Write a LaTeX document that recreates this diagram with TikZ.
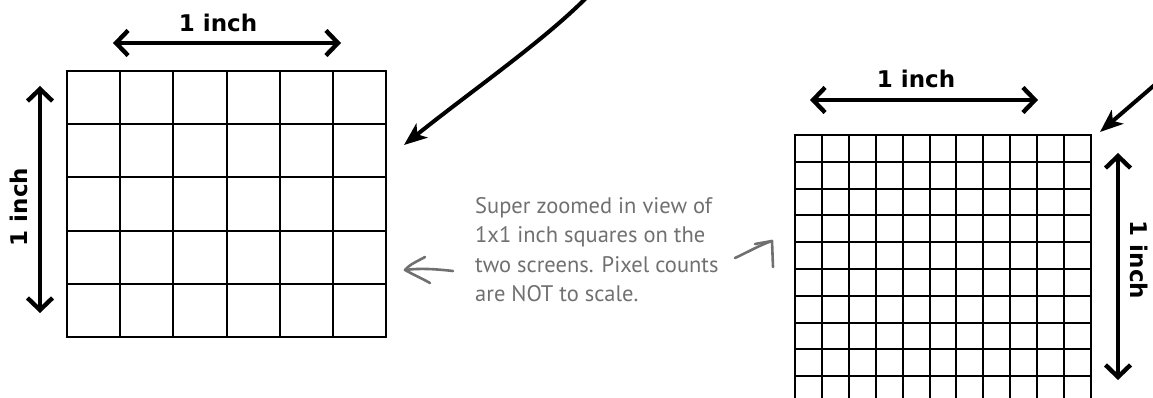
\documentclass[tikz,border=0pt]{standalone}
\usepackage{fontspec}
\newfontfamily\inchfont{DejaVu Sans}
\newfontfamily\notefont{PT Sans}
\definecolor{noteGray}{HTML}{707070}
\usetikzlibrary{arrows.meta}

\begin{document}
\begin{tikzpicture}[x=1pt,y=-1pt,
  gridline/.style={line width=2pt,line cap=rect},
  dim/.style={{Straight Barb[length=12pt,width=25pt]}-{Straight Barb[length=12pt,width=25pt]},
              line width=4.4pt},
  lbl/.style={font=\inchfont\bfseries\fontsize{23}{23}\selectfont,inner sep=0pt},
  ptr/.style={-{Stealth[length=23pt,width=18pt,inset=6pt]},line width=4pt},
  note/.style={font=\notefont\fontsize{22.5}{29.5}\selectfont,text=noteGray,
               align=left,inner sep=0pt},
  hand/.style={noteGray,line width=2.6pt,line cap=round,line join=round}
]
  \useasboundingbox (0,0) rectangle (1153,398);

  % ── Left screen: 6 x 5 squares per inch ──────────────────────────────────
  \foreach \i in {0,...,6} \draw[gridline] ({67+\i*53.17},71) -- ({67+\i*53.17},337);
  \foreach \j in {0,...,5} \draw[gridline] (67,{71+\j*53.2}) -- (386,{71+\j*53.2});

  \coordinate (lh-a) at (113,43);  \coordinate (lh-b) at (341,43);
  \coordinate (lv-a) at (40,86);   \coordinate (lv-b) at (40,313);
  \draw[dim] (lh-a) -- (lh-b);
  \draw[dim] (lv-a) -- (lv-b);
  \node[lbl] (lh-lbl) at (218,23) {1 inch};
  \node[lbl,rotate=90] (lv-lbl) at (19,207) {1 inch};

  % ── Right screen: 11 squares per inch (cut off at the bottom) ────────────
  \begin{scope}
    \clip (780,120) rectangle (1100,398);
    \foreach \i in {0,...,11} \draw[gridline] ({795+\i*26.9},135) -- ({795+\i*26.9},440);
    \foreach \j in {0,...,11} \draw[gridline] (795,{135+\j*26.8}) -- (1091,{135+\j*26.8});
  \end{scope}

  \coordinate (rh-a) at (810,100);  \coordinate (rh-b) at (1038,100);
  \coordinate (rv-a) at (1118,153); \coordinate (rv-b) at (1118,380);
  \draw[dim] (rh-a) -- (rh-b);
  \draw[dim] (rv-a) -- (rv-b);
  \node[lbl] (rh-lbl) at (916,79) {1 inch};
  \node[lbl,rotate=-90] (rv-lbl) at (1139,260) {1 inch};

  % ── Pointers coming in from above ────────────────────────────────────────
  \coordinate (pl-s) at (588,-4);   \coordinate (pl-e) at (404,145);
  \coordinate (pr-s) at (1165,76);  \coordinate (pr-e) at (1100,132);
  \draw[ptr] (pl-s) .. controls (545,40) and (470,92) .. (pl-e);
  \draw[ptr] (pr-s) -- (pr-e);

  % ── Handwritten note ─────────────────────────────────────────────────────
  \node[note,anchor=north west] (note) at (475,197)
    {Super zoomed in view of\\1x1 inch squares on the\\two screens. Pixel counts\\are NOT to scale.};

  \coordinate (hl-s) at (453,271); \coordinate (hl-e) at (405,270);
  \coordinate (hr-s) at (735,258); \coordinate (hr-e) at (772,241);
  \draw[hand] (hl-s) .. controls (435,269) and (420,268) .. (hl-e);
  \draw[hand] (425,257) .. controls (418,261) and (410,264) .. (hl-e)
              .. controls (414,275) and (423,279) .. (430,283);
  \draw[hand] (hr-s) .. controls (750,251) and (760,245) .. (hr-e);
  \draw[hand] (755,244) -- (hr-e) -- (773,267);
\end{tikzpicture}
\end{document}
